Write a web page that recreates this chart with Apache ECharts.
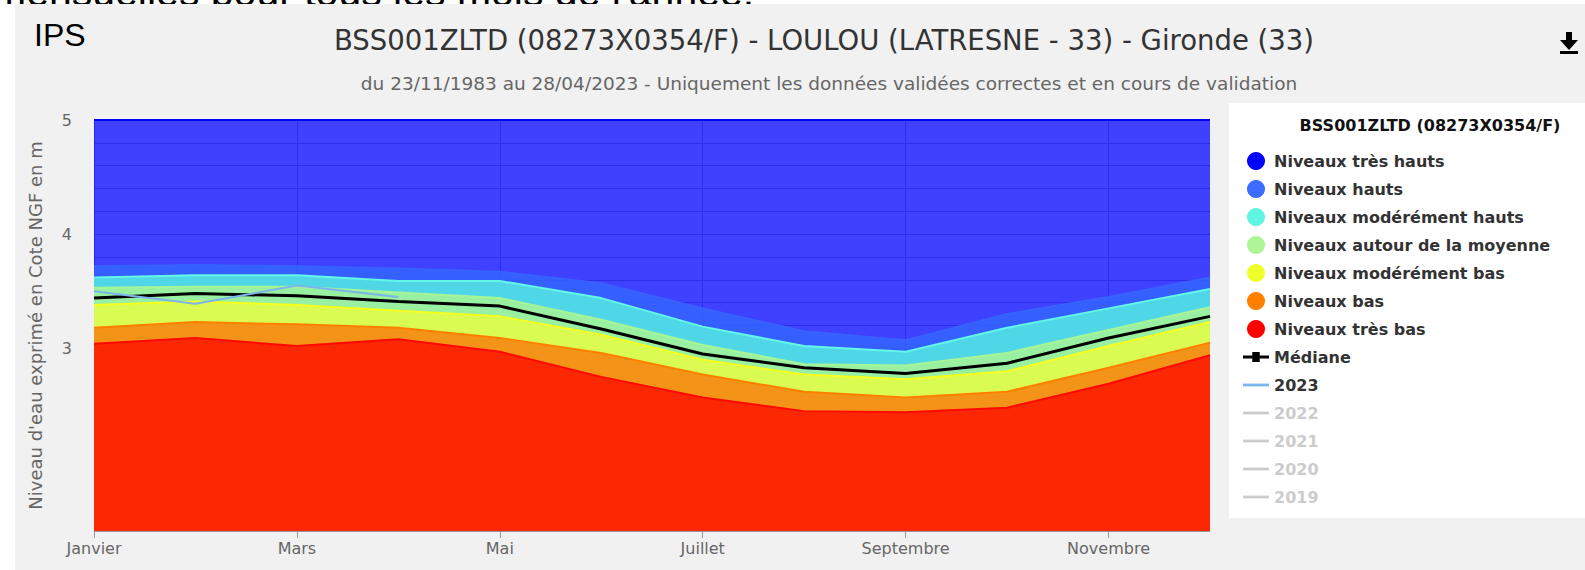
<!DOCTYPE html>
<html>
<head>
<meta charset="utf-8">
<script src="https://cdn.jsdelivr.net/npm/echarts@6/dist/echarts.min.js"></script>
<style>
  html, body { margin: 0; padding: 0; background: #ffffff; width: 1585px; height: 570px; overflow: hidden; }
  #topcut { position: absolute; left: 0; top: 0; width: 1585px; height: 4px; overflow: hidden; }
  #topcut span { position: absolute; left: -8px; top: -31px; font: 41px "Liberation Sans", Arial, sans-serif; color: #000; white-space: nowrap; }
  #chart { position: absolute; left: 15px; top: 4px; width: 1570px; height: 566px; background: #f1f1f1; }
</style>
</head>
<body>
<div id="topcut"><span>mensuelles pour tous les mois de l'année.</span></div>
<div id="chart"></div>
<script>
// ---- data ----
const months = ['Janvier','Février','Mars','Avril','Mai','Juin','Juillet','Août','Septembre','Octobre','Novembre','Décembre'];
const tresHauts = [5, 5, 5, 5, 5, 5, 5, 5, 5, 5, 5, 5];
const hauts     = [3.72, 3.73, 3.72, 3.70, 3.67, 3.57, 3.35, 3.15, 3.07, 3.30, 3.45, 3.62];
const modHauts  = [3.62, 3.64, 3.64, 3.59, 3.59, 3.44, 3.19, 3.02, 2.97, 3.18, 3.35, 3.52];
const moyenne   = [3.53, 3.54, 3.54, 3.49, 3.44, 3.25, 3.03, 2.86, 2.85, 2.96, 3.16, 3.36];
const modBas    = [3.38, 3.41, 3.38, 3.33, 3.28, 3.12, 2.90, 2.77, 2.73, 2.80, 3.02, 3.23];
const bas       = [3.18, 3.23, 3.21, 3.18, 3.09, 2.96, 2.77, 2.62, 2.57, 2.62, 2.83, 3.05];
const tresBas   = [3.04, 3.09, 3.02, 3.08, 2.97, 2.75, 2.57, 2.45, 2.44, 2.48, 2.69, 2.94];
const mediane   = [3.44, 3.48, 3.46, 3.41, 3.37, 3.17, 2.95, 2.83, 2.78, 2.87, 3.09, 3.28];
const y2023     = [3.50, 3.39, 3.55, 3.45, null, null, null, null, null, null, null, null];
const y2022 = [], y2021 = [], y2020 = [], y2019 = [];
const yTickLabels = [3, 4, 5];

const FONT = '"DejaVu Sans", sans-serif';
const LINE_ICON = 'path://M0,0H28V3H0Z';
const MEDIAN_ICON = 'path://M0,4H10V0H18V4H28V7H18V11H10V7H0Z';

function band(name, data, legendColor, lineColor, fillColor) {
  return {
    name: name, type: 'line', data: data, color: legendColor,
    symbol: 'none', silent: true,
    lineStyle: { color: lineColor, width: 2 },
    areaStyle: { color: fillColor, opacity: 1, origin: 'start' },
    emphasis: { disabled: true }
  };
}

const series = [
  band('Niveaux très hauts', tresHauts, '#0000ff', '#0000ff', 'rgba(0,0,255,0.75)'),
  band('Niveaux hauts', hauts, '#3b6cff', '#3662ff', 'rgba(51,102,255,0.8)'),
  band('Niveaux modérément hauts', modHauts, '#5ff5e0', '#62f7e6', '#50d7e7'),
  band('Niveaux autour de la moyenne', moyenne, '#aef595', '#a6f596', '#98f0a0'),
  band('Niveaux modérément bas', modBas, '#eeff2a', '#f6ff1e', '#d9fb52'),
  band('Niveaux bas', bas, '#ff7f00', '#ff8000', '#f39418'),
  band('Niveaux très bas', tresBas, '#ff0000', '#ff0800', '#fc2804'),
  {
    name: 'Médiane', type: 'line', data: mediane, color: '#000000',
    symbol: 'rect', symbolSize: 8, showSymbol: false, silent: true,
    lineStyle: { color: '#000000', width: 3 }, emphasis: { disabled: true }
  },
  {
    name: '2023', type: 'line', data: y2023, color: '#7cb5ec',
    symbol: 'none', silent: true, connectNulls: false,
    lineStyle: { color: '#7cb5ec', width: 2 }, emphasis: { disabled: true }
  },
  { name: '2022', type: 'line', data: y2022, color: '#cccccc', symbol: 'none', lineStyle: { width: 2 } },
  { name: '2021', type: 'line', data: y2021, color: '#cccccc', symbol: 'none', lineStyle: { width: 2 } },
  { name: '2020', type: 'line', data: y2020, color: '#cccccc', symbol: 'none', lineStyle: { width: 2 } },
  { name: '2019', type: 'line', data: y2019, color: '#cccccc', symbol: 'none', lineStyle: { width: 2 } }
];

const chart = echarts.init(document.getElementById('chart'), null, { renderer: 'svg', width: 1570, height: 566 });

const option = {
  animation: false,
  backgroundColor: 'transparent',
  textStyle: { fontFamily: FONT },
  grid: { left: 79, right: 375, top: 116, bottom: 39, show: true, backgroundColor: '#ffffff', borderWidth: 0 },
  xAxis: {
    type: 'category', data: months, boundaryGap: false,
    axisLine: { show: true, lineStyle: { color: '#999999', width: 1 } },
    axisTick: { show: true, interval: 1, length: 7, lineStyle: { color: '#999999' } },
    axisLabel: { interval: 1, color: '#666666', fontSize: 16, fontFamily: FONT, margin: 9 },
    splitLine: { show: true, interval: 1, lineStyle: { color: '#b4b4b4', width: 1 } }
  },
  yAxis: {
    type: 'value', min: 1.4, max: 5, interval: 0.2,
    name: "Niveau d'eau exprimé en Cote NGF en m",
    nameLocation: 'middle', nameGap: 50, nameRotate: 90,
    nameTextStyle: { color: '#666666', fontSize: 18, fontFamily: FONT },
    axisLine: { show: true, lineStyle: { color: '#999999', width: 1 } },
    axisTick: { show: false },
    axisLabel: {
      color: '#666666', fontSize: 16, fontFamily: FONT, margin: 22,
      formatter: function (v) {
        const r = Math.round(v);
        return (Math.abs(v - r) < 1e-6 && yTickLabels.indexOf(r) >= 0) ? String(r) : '';
      }
    },
    splitLine: { show: true, lineStyle: { color: '#b4b4b4', width: 1 } }
  },
  legend: {
    orient: 'vertical', left: 1223, top: 143,
    itemWidth: 26, itemHeight: 18, itemGap: 10,
    textStyle: { color: '#333333', fontSize: 16, lineHeight: 18, fontWeight: 'bold', fontFamily: FONT },
    inactiveColor: '#cccccc',
    data: [
      { name: 'Niveaux très hauts', icon: 'circle' },
      { name: 'Niveaux hauts', icon: 'circle' },
      { name: 'Niveaux modérément hauts', icon: 'circle' },
      { name: 'Niveaux autour de la moyenne', icon: 'circle' },
      { name: 'Niveaux modérément bas', icon: 'circle' },
      { name: 'Niveaux bas', icon: 'circle' },
      { name: 'Niveaux très bas', icon: 'circle' },
      { name: 'Médiane', icon: MEDIAN_ICON },
      { name: '2023', icon: LINE_ICON },
      { name: '2022', icon: LINE_ICON },
      { name: '2021', icon: LINE_ICON },
      { name: '2020', icon: LINE_ICON },
      { name: '2019', icon: LINE_ICON }
    ],
    selected: { '2022': false, '2021': false, '2020': false, '2019': false }
  },
  graphic: [
    { type: 'rect', z: -5, silent: true, shape: { x: 1214, y: 99, width: 356, height: 415 }, style: { fill: '#ffffff' } },
    { type: 'text', z: 10, silent: true, style: { x: 1415, y: 121, text: 'BSS001ZLTD (08273X0354/F)', textAlign: 'center', textVerticalAlign: 'middle', font: 'bold 16px "DejaVu Sans", sans-serif', fill: '#111111' } },
    { type: 'text', z: 10, silent: true, style: { x: 809, y: 36, text: 'BSS001ZLTD (08273X0354/F) - LOULOU (LATRESNE - 33) - Gironde (33)', textAlign: 'center', textVerticalAlign: 'middle', font: '27.5px "DejaVu Sans", sans-serif', fill: '#333333' } },
    { type: 'text', z: 10, silent: true, style: { x: 814, y: 79, text: 'du 23/11/1983 au 28/04/2023 - Uniquement les données validées correctes et en cours de validation', textAlign: 'center', textVerticalAlign: 'middle', font: '18.5px "DejaVu Sans", sans-serif', fill: '#666666' } },
    { type: 'text', z: 10, silent: true, style: { x: 19, y: 31, text: 'IPS', textAlign: 'left', textVerticalAlign: 'middle', font: '32px "Liberation Sans", Arial, sans-serif', fill: '#000000' } },
    { type: 'rect', z: 10, silent: true, shape: { x: 1551, y: 28, width: 6, height: 10 }, style: { fill: '#000000' } },
    { type: 'polygon', z: 10, silent: true, shape: { points: [[1545, 36], [1563, 36], [1554, 46]] }, style: { fill: '#000000' } },
    { type: 'rect', z: 10, silent: true, shape: { x: 1545, y: 47, width: 18, height: 3 }, style: { fill: '#000000' } }
  ],
  series: series
};
chart.setOption(option);
</script>
</body>
</html>
